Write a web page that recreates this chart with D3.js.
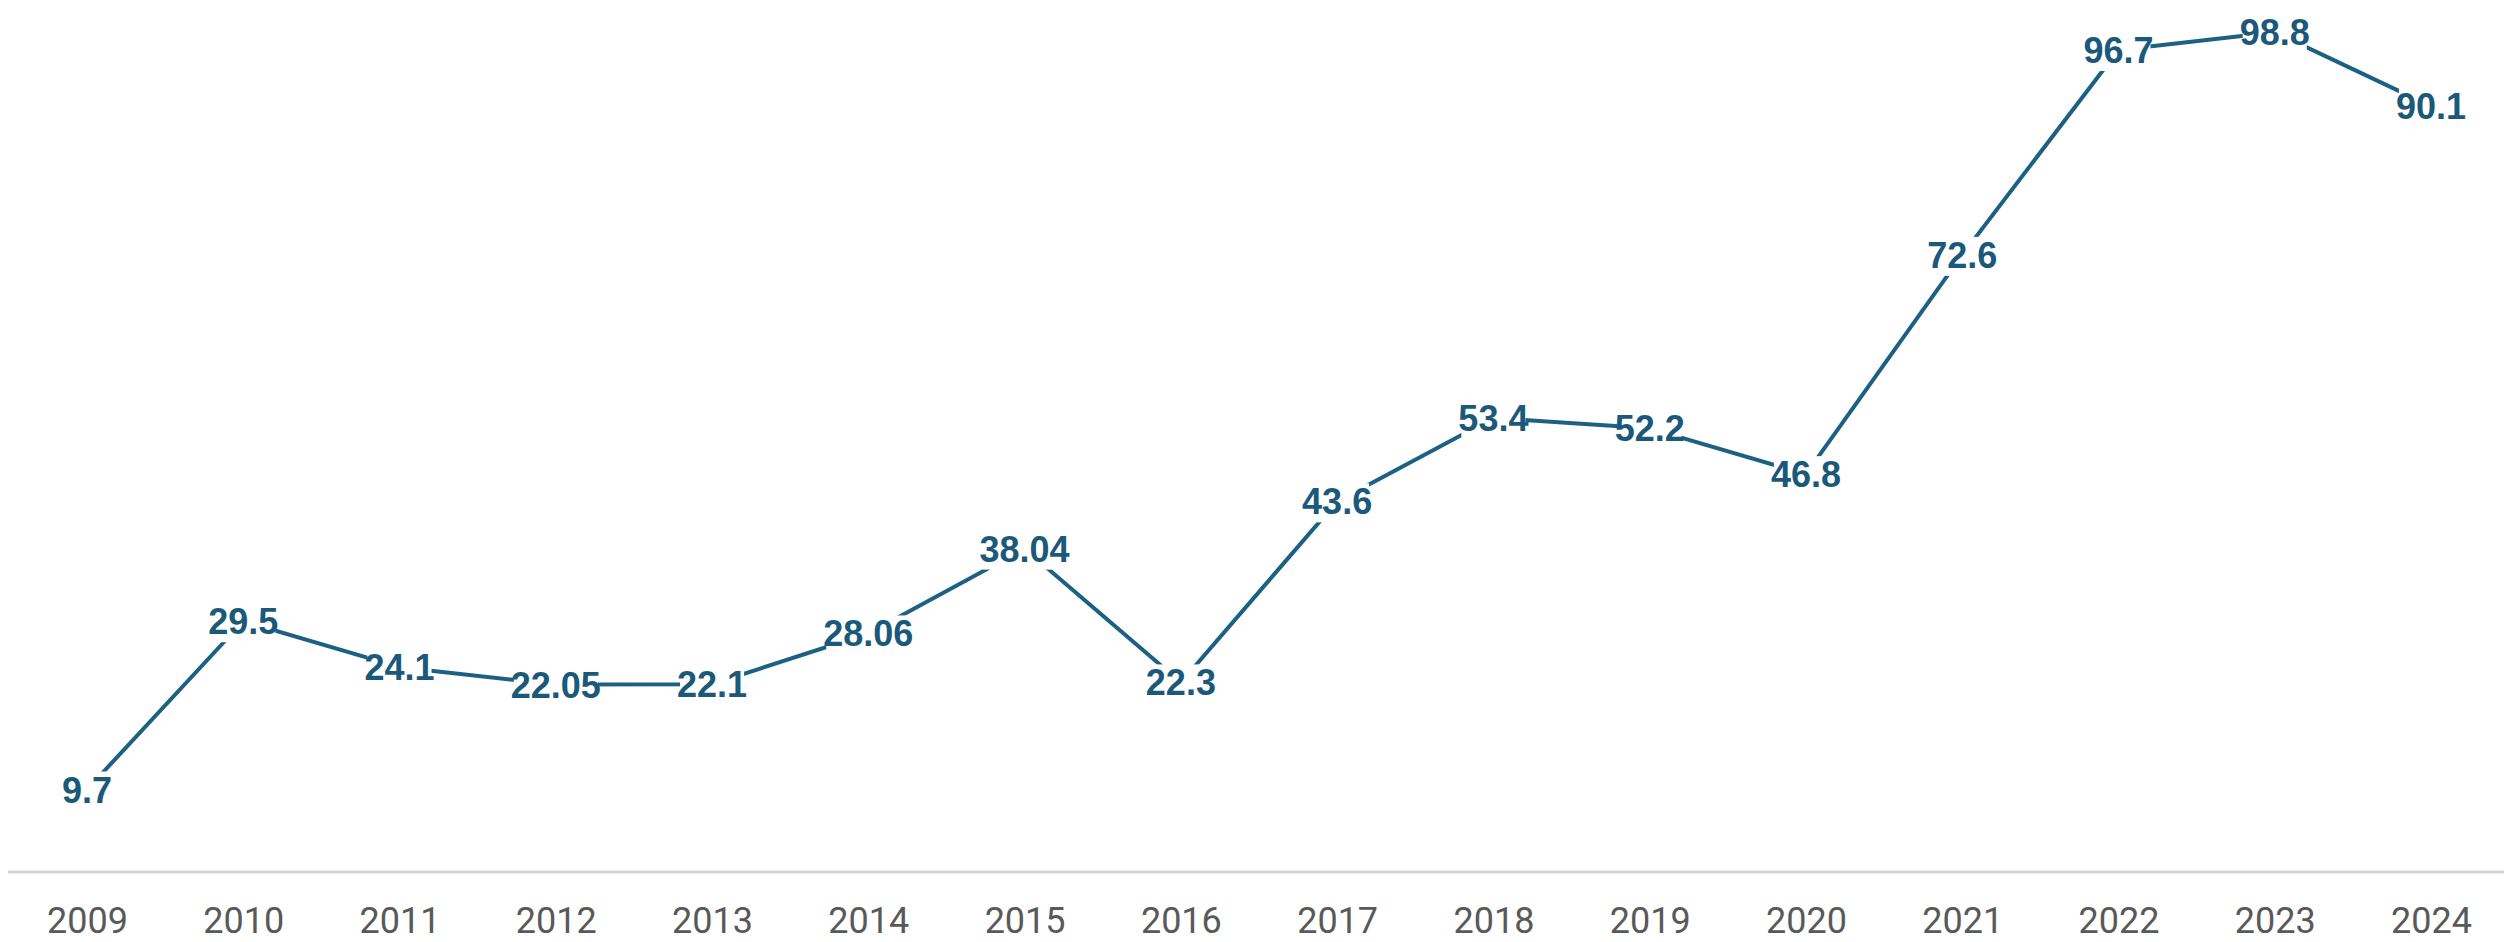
<!DOCTYPE html>
<html>
<head>
<meta charset="utf-8">
<script src="https://cdn.jsdelivr.net/npm/d3@7/dist/d3.min.js"></script>
<style>
  html, body { margin: 0; padding: 0; background: #ffffff; }
  svg { display: block; }
</style>
</head>
<body>
<svg id="chart" width="2519" height="942"></svg>
<script>
const years = ["2009","2010","2011","2012","2013","2014","2015","2016","2017","2018","2019","2020","2021","2022","2023","2024"];
const values = [9.7, 29.5, 24.1, 22.05, 22.1, 28.06, 38.04, 22.3, 43.6, 53.4, 52.2, 46.8, 72.6, 96.7, 98.8, 90.1];
const valueLabels = ["9.7","29.5","24.1","22.05","22.1","28.06","38.04","22.3","43.6","53.4","52.2","46.8","72.6","96.7","98.8","90.1"];

const W = 2519, H = 942;
const svg = d3.select("#chart");

const x = d3.scalePoint().domain(years).range([87, 2431]);
const y = d3.scaleLinear().domain([0, 100]).range([872, 22]);

const lineColor = "#1c6184";
const labelColor = "#1a5979";

// baseline axis line
svg.append("line")
  .attr("x1", 8).attr("x2", 2504)
  .attr("y1", y(0)).attr("y2", y(0))
  .attr("stroke", "#d2d2d2")
  .attr("stroke-width", 2.5);

// x axis tick labels
const xAxis = d3.axisBottom(x).tickSize(0).tickPadding(0);
const gx = svg.append("g")
  .attr("transform", `translate(0, ${y(0)})`)
  .call(xAxis);
gx.select(".domain").remove();
gx.selectAll("text")
  .attr("y", 61)
  .attr("dy", 0)
  .attr("fill", "#595959")
  .attr("font-family", "Roboto, 'Liberation Sans', Arial, sans-serif")
  .attr("font-size", 36);

const data = years.map((yr, i) => ({ year: yr, value: values[i], label: valueLabels[i] }));

// line
const line = d3.line().x(d => x(d.year)).y(d => y(d.value));
svg.append("path")
  .datum(data)
  .attr("fill", "none")
  .attr("stroke", lineColor)
  .attr("stroke-width", 4)
  .attr("stroke-linejoin", "round")
  .attr("d", line);

// value labels with white background boxes
const lg = svg.append("g");
const groups = lg.selectAll("g")
  .data(data)
  .join("g")
  .attr("transform", d => `translate(${x(d.year)}, ${y(d.value)})`);

const texts = groups.append("text")
  .attr("dy", "0.36em")
  .attr("text-anchor", "middle")
  .attr("font-family", "'Liberation Sans', Arial, Helvetica, sans-serif")
  .attr("font-weight", "bold")
  .attr("font-size", 36)
  .attr("fill", labelColor)
  .text(d => d.label);

texts.each(function() {
  const b = this.getBBox();
  const inset = 3;
  d3.select(this.parentNode).insert("rect", "text")
    .attr("x", b.x + inset)
    .attr("y", b.y + 2)
    .attr("width", b.width - 2 * inset)
    .attr("height", b.height - 2)
    .attr("fill", "#ffffff");
});
</script>
</body>
</html>
